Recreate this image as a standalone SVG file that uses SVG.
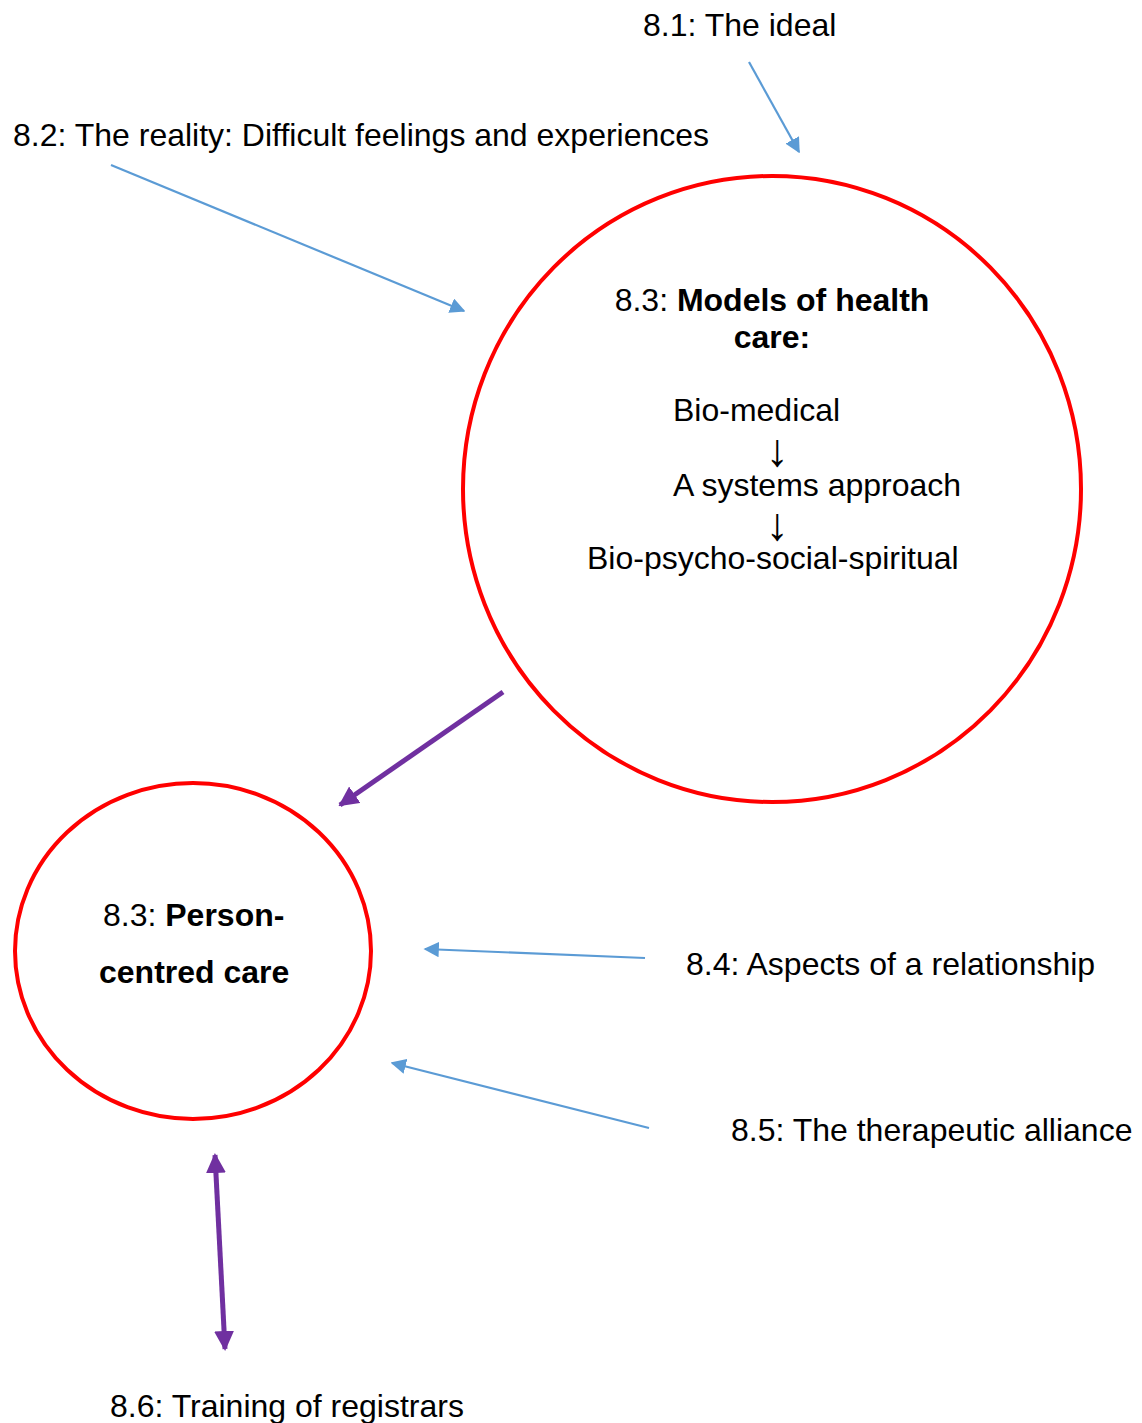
<svg xmlns="http://www.w3.org/2000/svg" width="1142" height="1423" viewBox="0 0 1142 1423">
  <style>
    text { font-family: "Liberation Sans", Arial, sans-serif; font-size: 32px; fill: #000; }
    .b { font-weight: bold; }
    .arr { font-size: 46px; }
    .ring { fill: none; stroke: #ff0000; stroke-width: 4; }
    .thin { fill: none; stroke: #5b9bd5; stroke-width: 2.2; }
    .thick { fill: none; stroke: #7030a0; stroke-width: 5; }
  </style>
  <defs>
    <marker id="headBlue" viewBox="0 0 10 10" refX="9" refY="5" markerWidth="7" markerHeight="7" markerUnits="strokeWidth" orient="auto">
      <path d="M0,0 L10,5 L0,10 z" fill="#5b9bd5"/>
    </marker>
    <marker id="headPurple" viewBox="0 0 10 10" refX="9" refY="5" markerWidth="4" markerHeight="4" markerUnits="strokeWidth" orient="auto-start-reverse">
      <path d="M0,0 L10,5 L0,10 z" fill="#7030a0"/>
    </marker>
  </defs>

  <!-- labels outside the circles -->
  <g id="n81"><text x="643" y="36">8.1: The ideal</text></g>
  <g id="n82"><text x="13" y="146">8.2: The reality: Difficult feelings and experiences</text></g>
  <g id="n84"><text x="686" y="975">8.4: Aspects of a relationship</text></g>
  <g id="n85"><text x="731" y="1141">8.5: The therapeutic alliance</text></g>
  <g id="n86"><text x="110" y="1417">8.6: Training of registrars</text></g>

  <!-- models of health care -->
  <g id="models">
    <ellipse class="ring" cx="772" cy="489" rx="309" ry="313"/>
    <text x="772" y="311" text-anchor="middle">8.3: <tspan class="b">Models of health</tspan></text>
    <text x="772" y="348" text-anchor="middle" class="b">care:</text>
    <text x="673" y="421">Bio-medical</text>
    <text x="777" y="466" text-anchor="middle" class="arr">↓</text>
    <text x="673" y="496">A systems approach</text>
    <text x="777" y="540" text-anchor="middle" class="arr">↓</text>
    <text x="587" y="569">Bio-psycho-social-spiritual</text>
  </g>

  <!-- person-centred care -->
  <g id="person">
    <ellipse class="ring" cx="193" cy="951" rx="178" ry="168"/>
    <text x="103" y="926">8.3: <tspan class="b">Person-</tspan></text>
    <text x="99" y="983" class="b">centred care</text>
  </g>

  <!-- connectors -->
  <g id="connectors">
    <line class="thin" x1="749" y1="62" x2="799" y2="152" marker-end="url(#headBlue)"/>
    <line class="thin" x1="111" y1="165" x2="464" y2="311" marker-end="url(#headBlue)"/>
    <line class="thin" x1="645" y1="958" x2="425" y2="949" marker-end="url(#headBlue)"/>
    <line class="thin" x1="649" y1="1128" x2="392" y2="1063" marker-end="url(#headBlue)"/>
    <line class="thick" x1="503" y1="692" x2="340" y2="805" marker-end="url(#headPurple)"/>
    <line class="thick" x1="215" y1="1155" x2="225" y2="1349" marker-start="url(#headPurple)" marker-end="url(#headPurple)"/>
  </g>
</svg>
